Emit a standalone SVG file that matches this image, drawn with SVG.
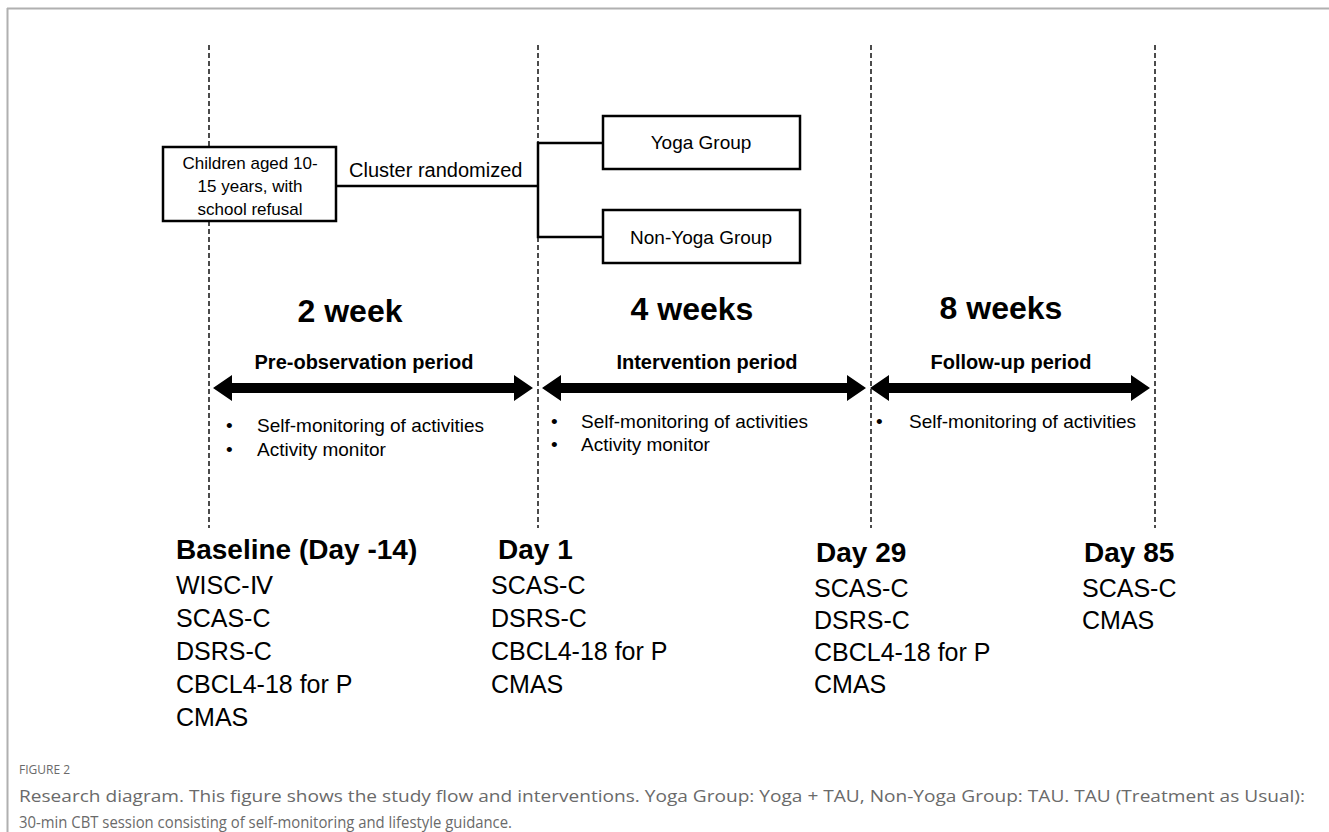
<svg xmlns="http://www.w3.org/2000/svg" width="1329" height="832" viewBox="0 0 1329 832">
<style>
.frame{stroke:#b0b0b0;stroke-width:2;fill:none}
.dash{stroke:#111;stroke-width:1.5;stroke-dasharray:5 3;fill:none}
.box{fill:#fff;stroke:#000;stroke-width:2.5}
.ln{stroke:#000;stroke-width:2.5;fill:none}
.t{font-family:"Liberation Sans",Arial,sans-serif;fill:#000}
.bx{font-size:17px}
.cl{font-size:20px}
.grp{font-size:19px}
.wk{font-size:32px;font-weight:bold}
.per{font-size:20px;font-weight:bold}
.bul{font-size:19px}
.hd{font-size:28px;font-weight:bold}
.it{font-size:25px}
.cap{font-family:"Open Sans","Noto Sans",sans-serif;fill:#6a6a6a}
.arr{fill:#000}
</style>
<g id="frame">
<line class="frame" x1="7" y1="8.5" x2="1329" y2="8.5"/>
<line class="frame" x1="7.5" y1="8" x2="7.5" y2="832"/>
</g>
<g id="timeline-markers">
<line class="dash" x1="209" y1="45" x2="209" y2="528"/>
<line class="dash" x1="538" y1="45" x2="538" y2="528"/>
<line class="dash" x1="871" y1="45" x2="871" y2="528"/>
<line class="dash" x1="1155" y1="45" x2="1155" y2="528"/>
</g>
<g id="connectors">
<line class="ln" x1="336" y1="186" x2="538" y2="186"/>
<polyline class="ln" points="603,143 538,143 538,237 603,237"/>
</g>
<g id="node-children">
<rect class="box" x="163" y="147" width="173" height="74"/>
<text class="t bx" text-anchor="middle" x="250" y="169">Children aged 10-</text>
<text class="t bx" text-anchor="middle" x="250" y="192">15 years, with</text>
<text class="t bx" text-anchor="middle" x="250" y="215">school refusal</text>
</g>
<g id="label-cluster">
<text class="t cl" x="349" y="177">Cluster randomized</text>
</g>
<g id="node-yoga">
<rect class="box" x="603" y="116" width="197" height="53"/>
<text class="t grp" text-anchor="middle" x="701" y="149">Yoga Group</text>
</g>
<g id="node-nonyoga">
<rect class="box" x="603" y="210" width="197" height="53"/>
<text class="t grp" text-anchor="middle" x="701" y="244">Non-Yoga Group</text>
</g>
<g id="period-pre">
<text class="t wk" text-anchor="middle" x="350" y="322">2 week</text>
<text class="t per" text-anchor="middle" x="364" y="369">Pre-observation period</text>
<polygon class="arr" points="213,388 232,375 232,383 514,383 514,375 533,388 514,401 514,393 232,393 232,401"/>
<text class="t bul" x="226" y="432">•</text>
<text class="t bul" x="257" y="432">Self-monitoring of activities</text>
<text class="t bul" x="226" y="456">•</text>
<text class="t bul" x="257" y="456">Activity monitor</text>
</g>
<g id="period-int">
<text class="t wk" text-anchor="middle" x="692" y="320">4 weeks</text>
<text class="t per" text-anchor="middle" x="707" y="369">Intervention period</text>
<polygon class="arr" points="542,388 561,375 561,383 847,383 847,375 866,388 847,401 847,393 561,393 561,401"/>
<text class="t bul" x="551" y="428">•</text>
<text class="t bul" x="581" y="428">Self-monitoring of activities</text>
<text class="t bul" x="551" y="451">•</text>
<text class="t bul" x="581" y="451">Activity monitor</text>
</g>
<g id="period-fu">
<text class="t wk" text-anchor="middle" x="1001" y="319">8 weeks</text>
<text class="t per" text-anchor="middle" x="1011" y="369">Follow-up period</text>
<polygon class="arr" points="870,388 889,375 889,383 1131,383 1131,375 1150,388 1131,401 1131,393 889,393 889,401"/>
<text class="t bul" x="876" y="428">•</text>
<text class="t bul" x="909" y="428">Self-monitoring of activities</text>
</g>
<g id="col-baseline">
<text class="t hd" x="176" y="559">Baseline (Day -14)</text>
<text class="t it" x="176" y="594">WISC-Ⅳ</text>
<text class="t it" x="176" y="627">SCAS-C</text>
<text class="t it" x="176" y="660">DSRS-C</text>
<text class="t it" x="176" y="693">CBCL4-18 for P</text>
<text class="t it" x="176" y="726">CMAS</text>
</g>
<g id="col-day1">
<text class="t hd" x="498" y="559">Day 1</text>
<text class="t it" x="491" y="594">SCAS-C</text>
<text class="t it" x="491" y="627">DSRS-C</text>
<text class="t it" x="491" y="660">CBCL4-18 for P</text>
<text class="t it" x="491" y="693">CMAS</text>
</g>
<g id="col-day29">
<text class="t hd" x="816" y="562">Day 29</text>
<text class="t it" x="814" y="597">SCAS-C</text>
<text class="t it" x="814" y="629">DSRS-C</text>
<text class="t it" x="814" y="661">CBCL4-18 for P</text>
<text class="t it" x="814" y="693">CMAS</text>
</g>
<g id="col-day85">
<text class="t hd" x="1084" y="562">Day 85</text>
<text class="t it" x="1082" y="597">SCAS-C</text>
<text class="t it" x="1082" y="629">CMAS</text>
</g>
<g id="caption">
<text class="cap" x="19" y="774" font-size="12">FIGURE 2</text>
<text class="cap" x="19" y="802" font-size="15.5" textLength="1286" lengthAdjust="spacingAndGlyphs">Research diagram. This figure shows the study flow and interventions. Yoga Group: Yoga + TAU, Non-Yoga Group: TAU. TAU (Treatment as Usual):</text>
<text class="cap" x="19" y="828" font-size="15.5" textLength="493" lengthAdjust="spacingAndGlyphs">30-min CBT session consisting of self-monitoring and lifestyle guidance.</text>
</g>
</svg>
